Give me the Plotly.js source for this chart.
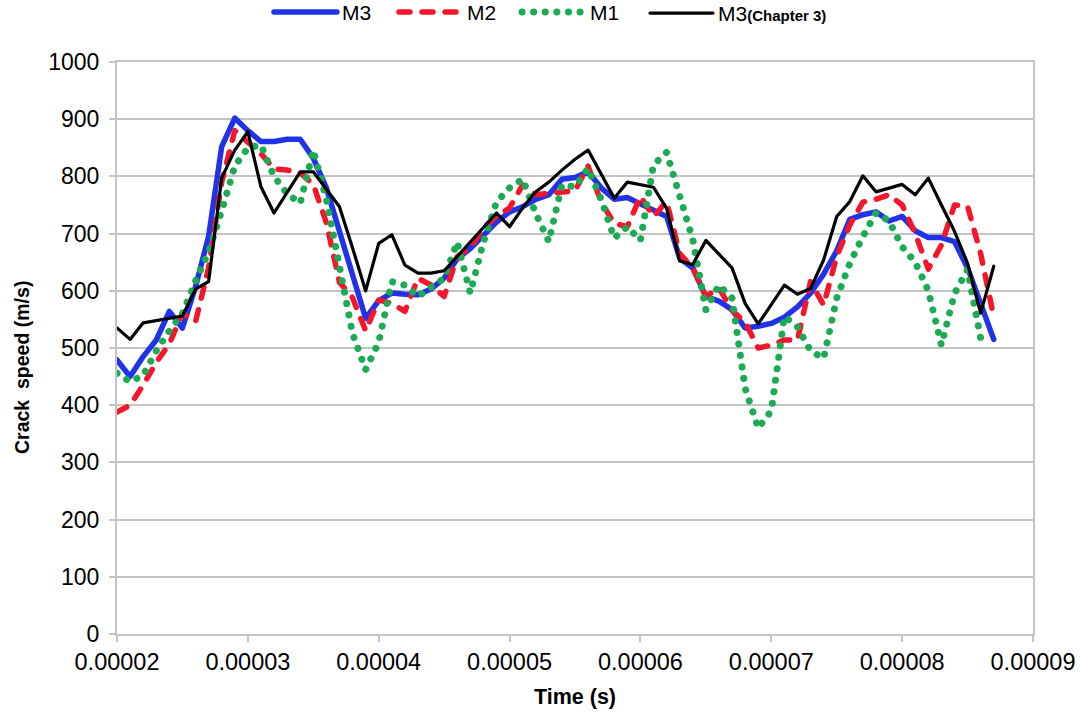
<!DOCTYPE html>
<html>
<head>
<meta charset="utf-8">
<script src="https://cdn.plot.ly/plotly-3.0.1.min.js"></script>
<style>
  html, body { margin: 0; padding: 0; background: #ffffff; }
  #chart { width: 1081px; height: 721px; }
  /* rounded ends give the dashes and dots their soft shape */
  .js-line { stroke-linecap: round; stroke-linejoin: round; }
</style>
</head>
<body>
<div id="chart"></div>
<script>
// Sample times in microseconds
const timeUs = [20, 21, 22, 23, 24, 25, 26, 27, 28, 29,
                30, 31, 32, 33, 34, 35, 36, 37, 38, 39,
                40, 41, 42, 43, 44, 45, 46, 47, 48, 49,
                50, 51, 52, 53, 54, 55, 56, 57, 58, 59,
                60, 61, 62, 63, 64, 65, 66, 67, 68, 69,
                70, 71, 72, 73, 74, 75, 76, 77, 78, 79,
                80, 81, 82, 83, 84, 85, 86, 87];

// Crack speed (m/s) per model
const speedM3 = [479, 450, 485, 514, 564, 535, 607, 695, 852, 902,
                 880, 861, 861, 865, 865, 832, 780, 705, 630, 552,
                 583, 596, 594, 593, 603, 622, 656, 674, 697, 720,
                 738, 747, 760, 768, 795, 798, 808, 780, 760, 763,
                 752, 742, 730, 657, 640, 590, 582, 567, 535, 538,
                 543, 554, 572, 596, 629, 670, 725, 733, 738, 722,
                 730, 705, 693, 693, 686, 640, 580, 515];

const speedM2 = [388, 400, 435, 475, 507, 561, 546, 640, 790, 880,
                 860, 840, 813, 811, 806, 786, 719, 615, 588, 530,
                 584, 578, 564, 622, 610, 590, 660, 675, 710, 730,
                 745, 785, 768, 770, 772, 775, 818, 755, 718, 712,
                 765, 730, 756, 665, 640, 590, 605, 566, 545, 500,
                 505, 514, 514, 616, 575, 660, 715, 755, 760, 768,
                 750, 700, 638, 680, 750, 748, 665, 555];

const speedM1 = [456, 441, 452, 495, 530, 560, 617, 668, 740, 818,
                 850, 855, 800, 770, 753, 846, 760, 635, 525, 462,
                 510, 616, 610, 590, 605, 622, 685, 596, 685, 755,
                 780, 795, 735, 686, 785, 782, 814, 760, 692, 712,
                 688, 820, 842, 765, 690, 567, 610, 587, 430, 360,
                 390, 555, 537, 495, 482, 587, 648, 695, 736, 722,
                 677, 650, 600, 505, 595, 637, 517];

const speedM3ch3 = [535, 515, 544, 548, 552, 556, 603, 616, 797, 846,
                    878, 782, 736, 772, 808, 808, 778, 747, 675, 600,
                    683, 698, 645, 631, 631, 635, 660, 686, 712, 736,
                    712, 745, 773, 790, 811, 830, 846, 805, 762, 790,
                    786, 781, 744, 652, 646, 688, 664, 640, 578, 542,
                    576, 610, 594, 604, 654, 730, 756, 801, 773, 780,
                    786, 768, 797, 750, 704, 648, 561, 643];

const xTicks = [0.00002, 0.00003, 0.00004, 0.00005, 0.00006, 0.00007, 0.00008, 0.00009];
const xTickText = ['0.00002', '0.00003', '0.00004', '0.00005', '0.00006', '0.00007', '0.00008', '0.00009'];

const toSeconds = us => us * 1e-6;
const tSec = timeUs.map(toSeconds);

const FONT = 'Liberation Sans, Arial, sans-serif';
const GRID = '#c4c4c4';

// each series gets its own one-entry legend so the row can be spaced freely
const traces = [
  {
    name: 'M3', x: tSec, y: speedM3, mode: 'lines', type: 'scatter', legend: 'legend',
    line: { color: '#2133e8', width: 5.5 }
  },
  {
    name: 'M2', x: tSec, y: speedM2, mode: 'lines', type: 'scatter', legend: 'legend2',
    line: { color: '#f5162b', width: 5.5, dash: '11px,12px' }
  },
  {
    name: 'M1', x: tSec.slice(0, speedM1.length), y: speedM1, mode: 'lines', type: 'scatter',
    legend: 'legend3',
    line: { color: '#1daa55', width: 7, dash: '0.1px,11.5px' }
  },
  {
    name: 'M3<span style="font-size:15px;font-weight:bold">(Chapter 3)</span>',
    x: tSec, y: speedM3ch3, mode: 'lines', type: 'scatter', legend: 'legend4',
    line: { color: '#000000', width: 3.2 }
  }
];

function legendAt(x, y) {
  return {
    orientation: 'h', xanchor: 'left', yanchor: 'middle', x: x, y: y,
    itemwidth: 63, font: { family: FONT, size: 21 },
    bgcolor: 'rgba(0,0,0,0)'
  };
}

const layout = {
  width: 1081, height: 721,
  paper_bgcolor: '#ffffff', plot_bgcolor: '#ffffff',
  margin: { l: 117, r: 48, t: 62, b: 87, autoexpand: false },
  font: { family: FONT, size: 23, color: '#000000' },
  showlegend: true,
  legend: legendAt(0.1659, 1.087),
  legend2: legendAt(0.3024, 1.087),
  legend3: legendAt(0.4367, 1.087),
  legend4: legendAt(0.5764, 1.085),
  xaxis: {
    range: [0.00002, 0.00009],
    tickvals: xTicks, ticktext: xTickText,
    showgrid: false, zeroline: false,
    showline: true, linecolor: GRID, linewidth: 2, mirror: true,
    ticks: 'outside', ticklen: 6, tickwidth: 2, tickcolor: GRID,
    tickfont: { family: FONT, size: 23.5 },
    title: { text: '<b>Time (s)</b>', font: { family: FONT, size: 21.5 }, standoff: 15 }
  },
  yaxis: {
    range: [0, 1000], dtick: 100, tick0: 0,
    showgrid: true, gridcolor: GRID, gridwidth: 2, zeroline: false,
    showline: true, linecolor: GRID, linewidth: 2, mirror: true,
    ticks: 'outside', ticklen: 6, tickwidth: 2, tickcolor: GRID,
    ticklabelstandoff: 5,
    tickfont: { family: FONT, size: 23 }
  },
  annotations: [{
    text: '<b>Crack  speed (m/s)</b>', textangle: -90, showarrow: false,
    xref: 'paper', yref: 'paper', x: -0.1037, y: 0.465,
    xanchor: 'center', yanchor: 'middle',
    font: { family: FONT, size: 19.5, color: '#000000' }
  }]
};

Plotly.newPlot('chart', traces, layout, { displayModeBar: false, staticPlot: true });
</script>
</body>
</html>
